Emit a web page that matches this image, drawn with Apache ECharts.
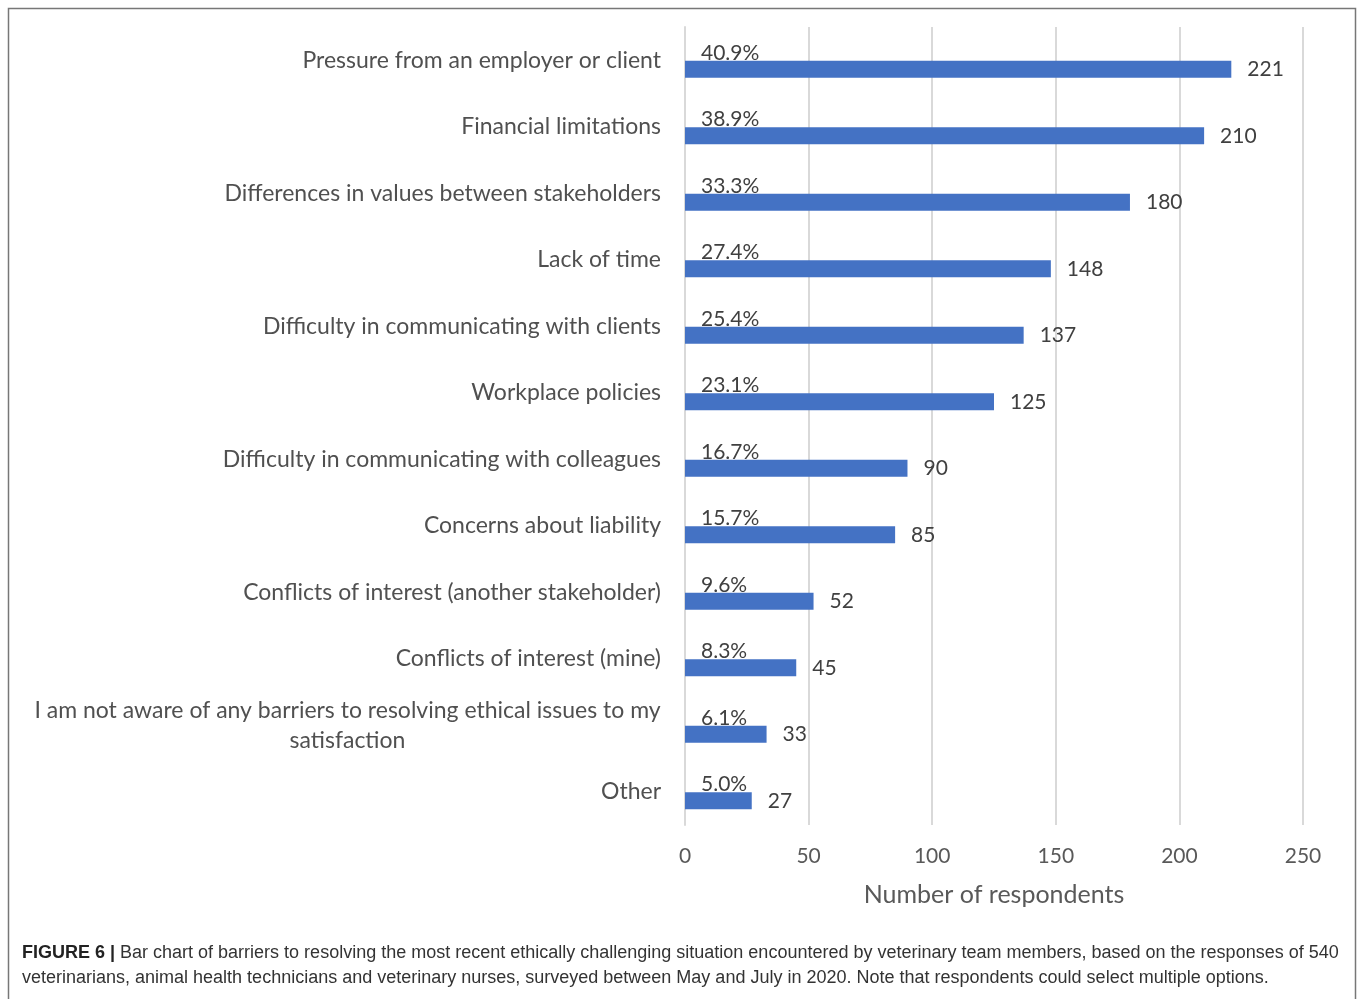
<!DOCTYPE html>
<html>
<head>
<meta charset="utf-8">
<script src="https://cdn.jsdelivr.net/npm/echarts@6/dist/echarts.min.js"></script>
<style>
  html, body { margin: 0; padding: 0; background: #fff; }
  #chart { width: 1358px; height: 999px; }
</style>
</head>
<body>
<div id="chart"></div>
<script>
// Barriers to resolving ethical issues (top to bottom)
const categories = [
  'Pressure from an employer or client',
  'Financial limitations',
  'Differences in values between stakeholders',
  'Lack of time',
  'Difficulty in communicating with clients',
  'Workplace policies',
  'Difficulty in communicating with colleagues',
  'Concerns about liability',
  'Conflicts of interest (another stakeholder)',
  'Conflicts of interest (mine)',
  'I am not aware of any barriers to resolving ethical issues to my\nsatisfaction',
  'Other'
];
const respondents = [221, 210, 180, 148, 137, 125, 90, 85, 52, 45, 33, 27];
const percentLabels = ['40.9%', '38.9%', '33.3%', '27.4%', '25.4%', '23.1%', '16.7%', '15.7%', '9.6%', '8.3%', '6.1%', '5.0%'];
const xTicks = [0, 50, 100, 150, 200, 250];

const textColor = '#404040';
const catColor = '#505050';
const labelFont = 'Lato, "Noto Sans", sans-serif';
const catFontSize = 23;

// width of the widest line of a wrapped category label, so every line can be centred in that block
function lineWidth(text) {
  const ctx = document.createElement('canvas').getContext('2d');
  ctx.font = catFontSize + 'px ' + labelFont;
  return Math.ceil(ctx.measureText(text).width);
}

const chart = echarts.init(document.getElementById('chart'));

chart.setOption({
  animation: false,
  backgroundColor: '#fff',
  title: {
    left: 22,
    top: 941,
    padding: 0,
    text: '{b|FIGURE 6 |} Bar chart of barriers to resolving the most recent ethically challenging situation encountered by veterinary team members, based on the responses of 540\nveterinarians, animal health technicians and veterinary nurses, surveyed between May and July in 2020. Note that respondents could select multiple options.',
    textStyle: {
      fontFamily: '"Liberation Sans", Arial, sans-serif',
      fontSize: 18,
      fontWeight: 'normal',
      color: '#333',
      lineHeight: 25,
      rich: {
        b: { fontFamily: '"Liberation Sans", Arial, sans-serif', fontSize: 18, fontWeight: 'bold', color: '#222', lineHeight: 25 }
      }
    }
  },
  graphic: [{
    type: 'rect',
    shape: { x: 8.5, y: 8.5, width: 1347, height: 1010 },
    style: { fill: 'none', stroke: '#777', lineWidth: 1.5 },
    z: 100
  }],
  grid: { left: 685, right: 55, top: 27, bottom: 174 },
  xAxis: {
    type: 'value',
    min: xTicks[0],
    max: xTicks[xTicks.length - 1],
    interval: 50,
    name: 'Number of respondents',
    nameLocation: 'middle',
    nameGap: 57,
    nameTextStyle: { fontFamily: labelFont, fontSize: 25, color: '#595959' },
    axisLine: { show: false },
    axisTick: { show: false },
    axisLabel: { fontFamily: labelFont, fontSize: 21, color: '#595959', margin: 21 },
    splitLine: { show: true, lineStyle: { color: '#d9d9d9', width: 2 } }
  },
  yAxis: {
    type: 'category',
    data: categories,
    inverse: true,
    axisLine: { show: true, lineStyle: { color: '#d9d9d9', width: 2 } },
    axisTick: { show: false },
    axisLabel: {
      fontFamily: labelFont,
      fontSize: catFontSize,
      color: catColor,
      margin: 24,
      lineHeight: 30,
      formatter: function (v) {
        if (v.indexOf('\n') >= 0) {
          return v.split('\n').map(function (s) { return '{w|' + s + '}'; }).join('\n');
        }
        return v;
      },
      rich: {
        w: {
          width: lineWidth(categories[10].split('\n')[0]),
          align: 'center',
          fontFamily: labelFont,
          fontSize: catFontSize,
          color: catColor,
          lineHeight: 30
        }
      }
    }
  },
  series: [
    {
      // empty slot above each bar; carries the percentage label
      type: 'bar',
      data: respondents,
      barWidth: 17,
      barGap: '6%',
      itemStyle: { color: 'rgba(0,0,0,0)' },
      silent: true,
      label: {
        show: true,
        position: [16, 10],
        verticalAlign: 'middle',
        align: 'left',
        fontFamily: labelFont,
        fontSize: 21,
        color: textColor,
        formatter: function (p) { return percentLabels[p.dataIndex]; }
      }
    },
    {
      type: 'bar',
      data: respondents,
      barWidth: 17,
      barGap: '6%',
      itemStyle: { color: '#4472C4' },
      label: {
        show: true,
        position: 'right',
        distance: 16,
        fontFamily: labelFont,
        fontSize: 21,
        color: textColor
      }
    }
  ]
});
</script>
</body>
</html>
